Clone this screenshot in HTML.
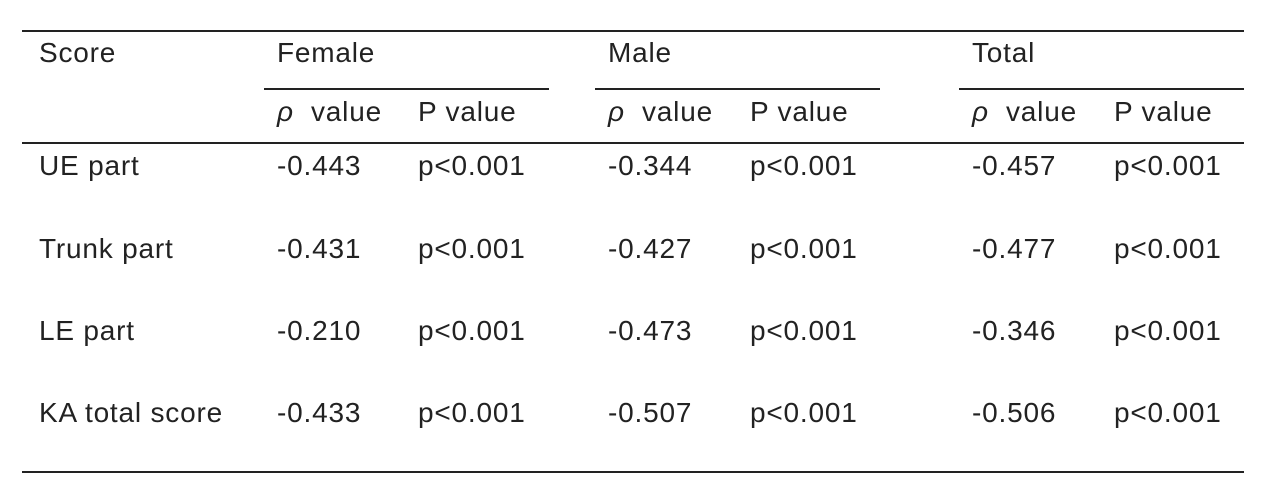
<!DOCTYPE html>
<html><head><meta charset="utf-8"><style>
html,body{margin:0;padding:0;background:#fff;}
#t{position:relative;width:1280px;height:502px;overflow:hidden;font-family:"Liberation Sans","Noto Sans CJK JP",sans-serif;font-size:28px;color:#222;letter-spacing:0.8px;}
.c{position:absolute;white-space:nowrap;line-height:32px;transform:translateY(-50%);}
.l{position:absolute;height:2px;background:#222;}
</style></head><body>
<div id="t">
<div class="l" style="left:22px;width:1222px;top:30px"></div>
<div class="l" style="left:264px;width:285px;top:88px"></div>
<div class="l" style="left:595px;width:285px;top:88px"></div>
<div class="l" style="left:959px;width:285px;top:88px"></div>
<div class="l" style="left:22px;width:1222px;top:142px"></div>
<div class="l" style="left:22px;width:1222px;top:471px"></div>

<div class="c" style="left:39px;top:53px">Score</div>
<div class="c" style="left:277px;top:53px">Female</div>
<div class="c" style="left:608px;top:53px">Male</div>
<div class="c" style="left:972px;top:53px">Total</div>

<div class="c" style="left:277px;top:112px"><i>ρ</i>&nbsp; value</div>
<div class="c" style="left:418px;top:112px">P value</div>
<div class="c" style="left:608px;top:112px"><i>ρ</i>&nbsp; value</div>
<div class="c" style="left:750px;top:112px">P value</div>
<div class="c" style="left:972px;top:112px"><i>ρ</i>&nbsp; value</div>
<div class="c" style="left:1114px;top:112px">P value</div>

<div class="c" style="left:39px;top:166px">UE part</div>
<div class="c" style="left:277px;top:166px">-0.443</div>
<div class="c" style="left:418px;top:166px">p&lt;0.001</div>
<div class="c" style="left:608px;top:166px">-0.344</div>
<div class="c" style="left:750px;top:166px">p&lt;0.001</div>
<div class="c" style="left:972px;top:166px">-0.457</div>
<div class="c" style="left:1114px;top:166px">p&lt;0.001</div>

<div class="c" style="left:39px;top:249px">Trunk part</div>
<div class="c" style="left:277px;top:249px">-0.431</div>
<div class="c" style="left:418px;top:249px">p&lt;0.001</div>
<div class="c" style="left:608px;top:249px">-0.427</div>
<div class="c" style="left:750px;top:249px">p&lt;0.001</div>
<div class="c" style="left:972px;top:249px">-0.477</div>
<div class="c" style="left:1114px;top:249px">p&lt;0.001</div>

<div class="c" style="left:39px;top:331px">LE part</div>
<div class="c" style="left:277px;top:331px">-0.210</div>
<div class="c" style="left:418px;top:331px">p&lt;0.001</div>
<div class="c" style="left:608px;top:331px">-0.473</div>
<div class="c" style="left:750px;top:331px">p&lt;0.001</div>
<div class="c" style="left:972px;top:331px">-0.346</div>
<div class="c" style="left:1114px;top:331px">p&lt;0.001</div>

<div class="c" style="left:39px;top:413px">KA total score</div>
<div class="c" style="left:277px;top:413px">-0.433</div>
<div class="c" style="left:418px;top:413px">p&lt;0.001</div>
<div class="c" style="left:608px;top:413px">-0.507</div>
<div class="c" style="left:750px;top:413px">p&lt;0.001</div>
<div class="c" style="left:972px;top:413px">-0.506</div>
<div class="c" style="left:1114px;top:413px">p&lt;0.001</div>
</div>
</body></html>
